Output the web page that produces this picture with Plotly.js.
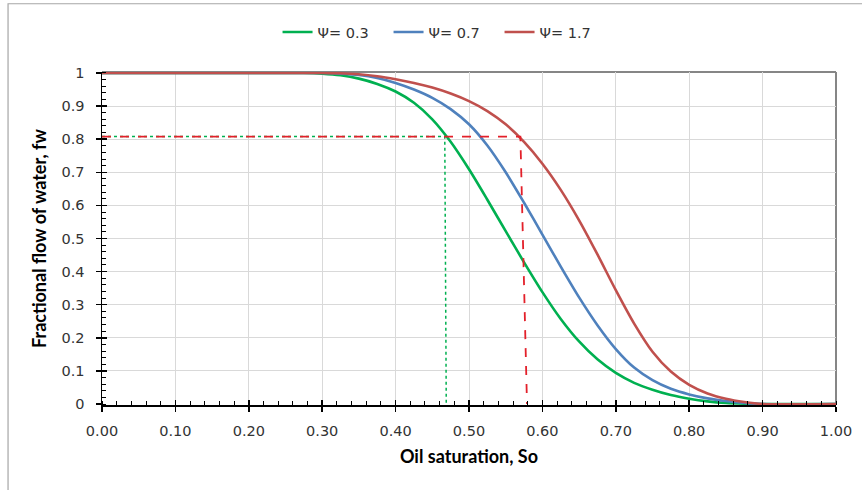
<!DOCTYPE html>
<html>
<head>
<meta charset="utf-8">
<script src="https://cdn.plot.ly/plotly-3.0.1.min.js"></script>
<style>
html,body{margin:0;padding:0;background:#fff;}
#chart{width:862px;height:490px;}
</style>
</head>
<body>
<div id="chart"></div>
<script>
// Oil saturation sample points
var so = [0.000, 0.250, 0.275, 0.300, 0.325, 0.350, 0.375, 0.400, 0.425, 0.450, 0.475, 0.500, 0.525, 0.550, 0.575,
          0.600, 0.625, 0.650, 0.675, 0.700, 0.725, 0.750, 0.775, 0.800, 0.825, 0.850, 0.875, 0.900, 1.000];
// Fractional flow of water for each viscosity ratio
var fw03 = [1.000, 1.000, 1.000, 0.998, 0.993, 0.983, 0.967, 0.944, 0.910, 0.860, 0.792, 0.709, 0.617, 0.522, 0.428,
            0.338, 0.257, 0.189, 0.135, 0.094, 0.064, 0.043, 0.027, 0.016, 0.008, 0.003, 0.001, 0.000, 0.000];
var fw07 = [1.000, 1.000, 1.000, 1.000, 0.998, 0.994, 0.985, 0.970, 0.950, 0.925, 0.891, 0.845, 0.781, 0.700, 0.608,
            0.512, 0.415, 0.322, 0.238, 0.166, 0.110, 0.072, 0.046, 0.029, 0.017, 0.009, 0.003, 0.000, 0.000];
var fw17 = [1.000, 1.000, 1.000, 1.000, 0.999, 0.996, 0.990, 0.981, 0.970, 0.956, 0.938, 0.915, 0.885, 0.845, 0.792,
            0.726, 0.647, 0.555, 0.452, 0.344, 0.243, 0.158, 0.098, 0.058, 0.032, 0.016, 0.006, 0.000, 0.000];
var seriesNames = ["\u03a8= 0.3", "\u03a8= 0.7", "\u03a8= 1.7"];
var seriesColors = ["#00b050", "#4f81bd", "#c0504d"];

// Guide lines at fw = 0.808
var redGuideX = [0.00, 0.570, 0.579];
var redGuideY = [0.808, 0.808, 0.000];
var greenGuideX = [0.00, 0.467, 0.469];
var greenGuideY = [0.808, 0.808, 0.000];

var xTickVals = [0, 0.1, 0.2, 0.3, 0.4, 0.5, 0.6, 0.7, 0.8, 0.9, 1.0];
var yTickVals = [0, 0.1, 0.2, 0.3, 0.4, 0.5, 0.6, 0.7, 0.8, 0.9, 1.0];

var curves = [fw03, fw07, fw17];
var traces = curves.map(function (fw, i) {
  return {
    x: so, y: fw, type: 'scatter', mode: 'lines', name: seriesNames[i],
    line: {color: seriesColors[i], width: 2.6, shape: 'spline', smoothing: 0.8},
    hoverinfo: 'skip'
  };
});
traces.push({
  x: greenGuideX, y: greenGuideY, xaxis: 'x2', yaxis: 'y2', type: 'scatter', mode: 'lines',
  line: {color: '#00b050', width: 1.5, dash: 'dot'}, showlegend: false, hoverinfo: 'skip'
});
traces.push({
  x: redGuideX, y: redGuideY, xaxis: 'x2', yaxis: 'y2', type: 'scatter', mode: 'lines',
  line: {color: '#e3202a', width: 1.8, dash: 'dash'}, showlegend: false, hoverinfo: 'skip'
});

var XR = [0, 1.0];
var YR = [-0.003, 1.003];
var tickFont = {family: 'DejaVu Sans', size: 14.5, color: '#333333'};
var titleFont = {family: 'Lato', size: 18, color: '#000000', weight: 'bold'};

var layout = {
  width: 862, height: 490,
  margin: {l: 102, r: 26, t: 72, b: 85, pad: 0},
  paper_bgcolor: '#ffffff', plot_bgcolor: '#ffffff',
  showlegend: true,
  legend: {
    orientation: 'h', x: 0.466, xanchor: 'center', y: 1.12, yanchor: 'middle',
    font: {family: 'DejaVu Sans', size: 14.5, color: '#333333'},
    bgcolor: 'rgba(0,0,0,0)', entrywidth: 66, entrywidthmode: 'pixels'
  },
  xaxis: {
    range: XR, tickvals: xTickVals, tickformat: '.2f',
    showgrid: true, gridcolor: '#d9d9d9', gridwidth: 1,
    showline: true, linecolor: '#000000', linewidth: 1.5,
    ticks: 'outside', ticklen: 5, tickwidth: 1.5, tickcolor: '#000000',
    ticklabelstandoff: 7,
    minor: {dtick: 0.02, ticks: 'inside', ticklen: 4, tickwidth: 1, tickcolor: '#000000', showgrid: false},
    tickfont: tickFont, zeroline: false,
    title: {text: 'Oil saturation, So', font: titleFont, standoff: 12}
  },
  yaxis: {
    range: YR, tickvals: yTickVals,
    showgrid: true, gridcolor: '#d9d9d9', gridwidth: 1,
    showline: true, linecolor: '#000000', linewidth: 1.5,
    ticks: 'outside', ticklen: 5, tickwidth: 1.5, tickcolor: '#000000',
    ticklabelstandoff: 8,
    minor: {dtick: 0.02, ticks: 'inside', ticklen: 4, tickwidth: 1, tickcolor: '#000000', showgrid: false},
    tickfont: tickFont, zeroline: false,
    title: {text: 'Fractional flow of water, fw', font: titleFont, standoff: 10}
  },
  xaxis2: {
    overlaying: 'x', anchor: 'y', range: XR, tickvals: xTickVals,
    showgrid: false, zeroline: false, showline: false, showticklabels: false,
    ticks: 'inside', ticklen: 5, tickwidth: 1.5, tickcolor: '#000000'
  },
  yaxis2: {
    overlaying: 'y', anchor: 'x', range: YR, tickvals: yTickVals,
    showgrid: false, zeroline: false, showline: false, showticklabels: false,
    ticks: 'inside', ticklen: 5, tickwidth: 1.5, tickcolor: '#000000'
  },
  shapes: [
    {type: 'line', xref: 'paper', yref: 'paper', x0: 0, x1: 1, y0: 1, y1: 1,
     line: {color: '#868686', width: 2}, layer: 'below'},
    {type: 'line', xref: 'paper', yref: 'paper', x0: 1, x1: 1, y0: 0, y1: 1,
     line: {color: '#868686', width: 2}, layer: 'below'},
    {type: 'rect', xref: 'paper', yref: 'paper', x0: -0.128, x1: 1.1, y0: -0.4, y1: 1.205,
     line: {color: '#a6a6a6', width: 1.2}, fillcolor: 'rgba(0,0,0,0)', layer: 'below'}
  ]
};

Plotly.newPlot('chart', traces, layout, {displayModeBar: false, staticPlot: true});
</script>
</body>
</html>
